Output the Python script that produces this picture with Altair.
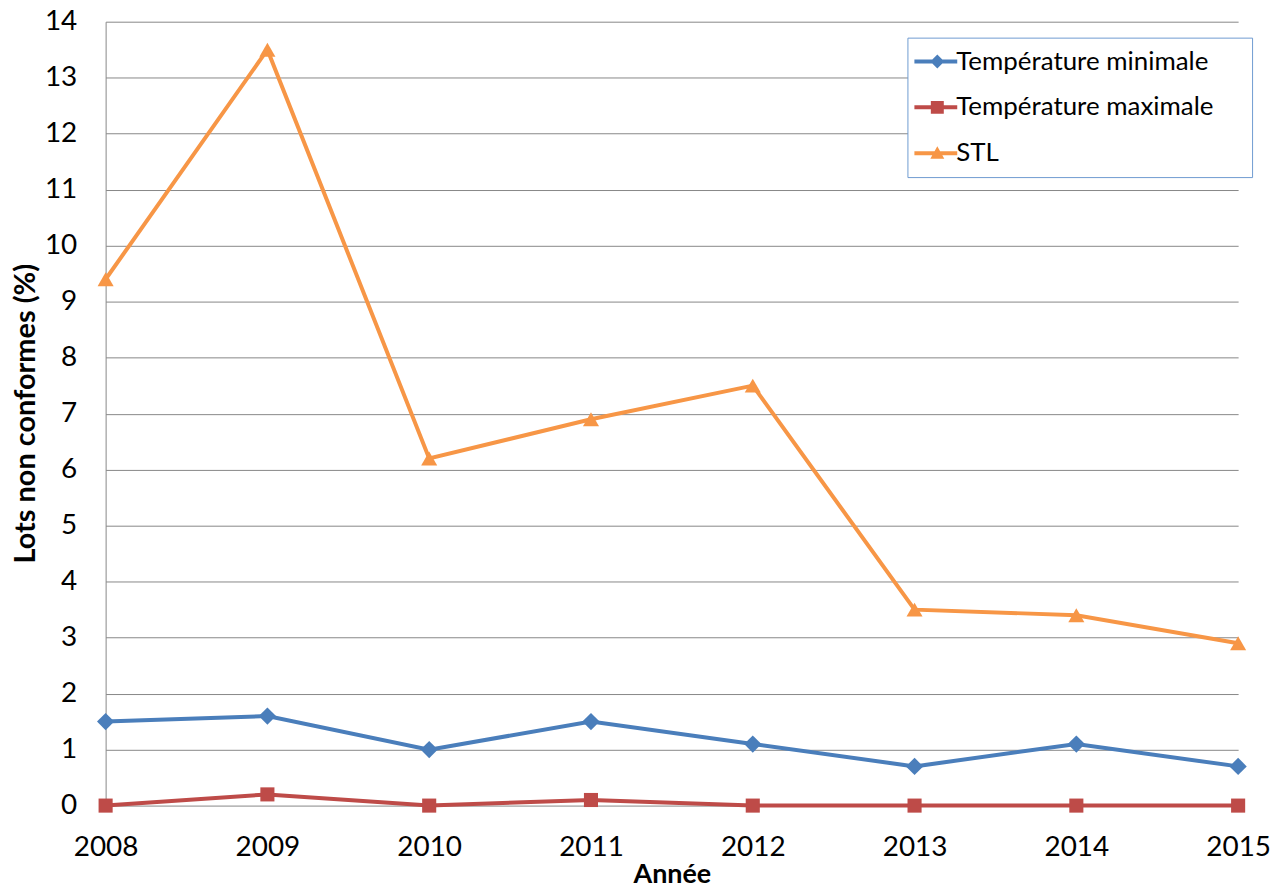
import altair as alt
import pandas as pd

years = [2008, 2009, 2010, 2011, 2012, 2013, 2014, 2015]
series_names = ["Température minimale", "Température maximale", "STL"]
t_min = [1.5, 1.6, 1.0, 1.5, 1.1, 0.7, 1.1, 0.7]
t_max = [0.0, 0.2, 0.0, 0.1, 0.0, 0.0, 0.0, 0.0]
stl = [9.4, 13.5, 6.2, 6.9, 7.5, 3.5, 3.4, 2.9]
colors = ["#4A7EBB", "#BE4B48", "#F79646"]
marker_shapes = ["diamond", "square", "triangle-up"]
marker_sizes = [300, 200, 260]

rows = []
for name, vals in zip(series_names, [t_min, t_max, stl]):
    for y, v in zip(years, vals):
        rows.append({"Année": y, "Valeur": v, "Série": name})
df = pd.DataFrame(rows)

FONT = "Lato"

# legend symbols: a short line with the marker in the middle
# (the trailing move-to widens the legend box to the reference's size)
line_p = "M-1.7,-0.2H2.6V0.2H-1.7Z"
diamond_p = "M0.6,-0.7L1.3,0L0.6,0.7L-0.1,0Z"
square_p = "M-0.05,-0.65H1.25V0.65H-0.05Z"
tri_p = "M0.6,-0.7L1.3,0.55H-0.1Z"
pad_p = "M31.1,0"
legend_paths = [
    line_p + " " + diamond_p + " " + pad_p,
    line_p + " " + square_p + " " + pad_p,
    line_p + " " + tri_p + " " + pad_p,
]

legend = alt.Legend(
    title=None,
    orient="none",
    legendX=805,
    legendY=16,
    padding=11,
    rowPadding=20,
    symbolSize=400,
    symbolOpacity=1,
    symbolStrokeWidth=0,
    labelOffset=12,
    labelLimit=500,
    labelFont=FONT,
    labelFontSize=26,
    labelColor="#000000",
    strokeColor="#6F9BD1",
    fillColor="#FFFFFF",
)

color_scale = alt.Scale(domain=series_names, range=colors)

x = alt.X(
    "Année:Q",
    scale=alt.Scale(domain=[2008, 2015], nice=False, zero=False),
    axis=alt.Axis(
        values=years,
        format="d",
        grid=False,
        domain=False,
        ticks=False,
        tickSize=0,
        labelFlush=False,
        labelFont=FONT,
        labelFontSize=28,
        labelColor="#000000",
        labelBaseline="alphabetic",
        labelPadding=50,
        title="Année",
        titleFont=FONT,
        titleFontSize=27,
        titleFontWeight="bold",
        titleColor="#000000",
        titleBaseline="alphabetic",
        titleY=77,
    ),
)

y = alt.Y(
    "Valeur:Q",
    scale=alt.Scale(domain=[0, 14], nice=False),
    axis=alt.Axis(
        values=list(range(0, 15)),
        grid=True,
        gridColor="#878787",
        gridWidth=1,
        domain=True,
        domainColor="#878787",
        domainWidth=1,
        ticks=False,
        tickSize=0,
        labelFont=FONT,
        labelFontSize=28,
        labelColor="#000000",
        labelPadding=29,
        title="Lots non conformes (%)",
        titleFont=FONT,
        titleFontSize=29,
        titleFontWeight="bold",
        titleColor="#000000",
        titleX=-65,
        titleY=393,
    ),
)

base = alt.Chart(df)

layers = []
for name, col in zip(series_names, colors):
    layers.append(
        base.transform_filter(alt.datum["Série"] == name)
        .mark_line(strokeWidth=4, color=col)
        .encode(x=x, y=y)
    )
for name, col, shp, sz in zip(series_names, colors, marker_shapes, marker_sizes):
    layers.append(
        base.transform_filter(alt.datum["Série"] == name)
        .mark_point(filled=True, opacity=1, size=sz, shape=shp, color=col)
        .encode(x=x, y=y)
    )

# legend-only layer (no rows drawn): its symbols combine a line and the marker
legend_layer = (
    base.transform_filter("datum.Valeur < -100")
    .mark_point(filled=True, opacity=1, size=400)
    .encode(
        x=x,
        y=y,
        color=alt.Color("Série:N", scale=color_scale, legend=legend),
        shape=alt.Shape(
            "Série:N",
            scale=alt.Scale(domain=series_names, range=legend_paths),
            legend=legend,
        ),
    )
)
layers.append(legend_layer)

chart = (
    alt.layer(*layers)
    .properties(
        width=1137,
        height=787,
        autosize=alt.AutoSizeParams(type="none"),
        padding={"left": 98, "top": 12, "right": 32, "bottom": 86},
        background="#FFFFFF",
    )
    .configure_view(stroke=None)
)

chart.save("out.html", embed_options={"renderer": "svg", "actions": False})
